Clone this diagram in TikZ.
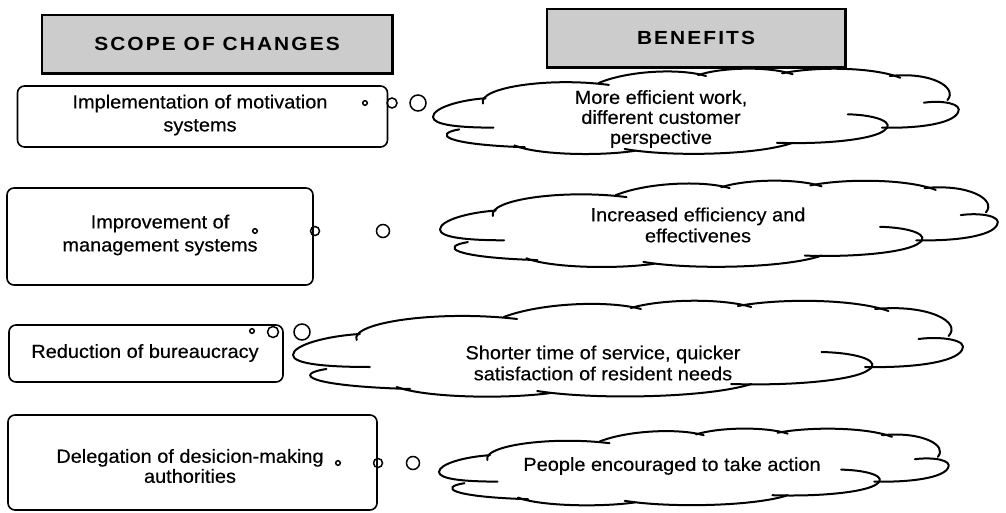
\documentclass[tikz,border=0pt]{standalone}
\usepackage{fontspec}
\setmainfont{Liberation Sans}[FakeStretch=1.05,FakeBold=0.4]
\newfontfamily\hdrfont{Liberation Sans}[FakeStretch=1.1,LetterSpace=11]
\begin{document}
\begin{tikzpicture}[x=1pt,y=-1pt,
  hdr/.style={draw=black, line width=1.4pt, fill=black!20, inner sep=0pt, font=\hdrfont\bfseries\fontsize{19pt}{22pt}\selectfont},
  bx/.style={draw=black, line width=1.6pt, rounded corners=7pt, inner sep=0pt},
  txt/.style={align=center, inner sep=0pt, font=\fontsize{19pt}{21pt}\selectfont},
  bub/.style={draw=black, line width=1.5pt, circle, inner sep=0pt},
  cloudline/.style={line width=2pt, line cap=round, line join=round},
  cloudpic/.pic={
    \draw[cloudline] (0.095,0.40) .. controls (0.085,0.22) and (0.22,0.10) .. (0.335,0.19);
    \draw[cloudline] (0.315,0.17) .. controls (0.37,0.03) and (0.47,0.00) .. (0.52,0.09);
    \draw[cloudline] (0.505,0.08) .. controls (0.55,-0.01) and (0.64,-0.02) .. (0.685,0.07);
    \draw[cloudline] (0.665,0.06) .. controls (0.73,-0.02) and (0.84,-0.01) .. (0.89,0.11);
    \draw[cloudline] (0.87,0.09) .. controls (0.95,0.04) and (1.0,0.22) .. (0.98,0.36);
    \draw[cloudline] (0.935,0.39) .. controls (0.97,0.36) and (1.01,0.40) .. (1.0,0.50) .. controls (0.99,0.62) and (0.93,0.68) .. (0.855,0.67);
    \draw[cloudline] (0.79,0.52) .. controls (0.85,0.53) and (0.88,0.62) .. (0.86,0.70) .. controls (0.84,0.80) and (0.75,0.86) .. (0.655,0.84);
    \draw[cloudline] (0.685,0.84) .. controls (0.62,0.98) and (0.45,1.0) .. (0.365,0.91);
    \draw[cloudline] (0.385,0.93) .. controls (0.32,0.99) and (0.20,0.98) .. (0.155,0.87);
    \draw[cloudline] (0.05,0.69) .. controls (0.0,0.74) and (0.02,0.86) .. (0.175,0.89);
    \draw[cloudline] (0.10,0.34) .. controls (0.05,0.36) and (0.0,0.45) .. (0.0,0.55) .. controls (0.0,0.64) and (0.05,0.67) .. (0.115,0.67);
  }
]
\useasboundingbox (0,0) rectangle (1006,513);
\fill[white] (0,0) rectangle (1006,513);

% headers
\node[hdr, minimum width=350pt, minimum height=58pt] (hs) at (217,44) {SCOPE OF CHANGES};
\draw[line width=2.6pt] (hs.south west) -- (hs.south east) -- (hs.north east);
\node[hdr, minimum width=298pt, minimum height=58pt] (hb) at (696,38) {BENEFITS};
\draw[line width=2.6pt] (hb.south west) -- (hb.south east) -- (hb.north east);

% clouds
\pic[xscale=525, yscale=89] (cl1) at (433,68) {cloudpic};
\pic[xscale=557, yscale=90] (cl2) at (440,180) {cloudpic};
\pic[xscale=669, yscale=100] (cl3) at (293,300) {cloudpic};
\pic[xscale=509, yscale=80] (cl4) at (439,428) {cloudpic};

% boxes
\node[bx, minimum width=370pt, minimum height=61pt] (b1) at (202.5,116.5) {};
\node[bx, minimum width=306pt, minimum height=97pt] (b2) at (160,236.5) {};
\node[bx, minimum width=274pt, minimum height=57pt] (b3) at (146,353.5) {};
\node[bx, minimum width=369pt, minimum height=95pt] (b4) at (192.5,462.5) {};

% box texts
\node[txt, font=\fontsize{19pt}{23pt}\selectfont] (t1) at (200,115) {Implementation of motivation\\systems};
\node[txt, font=\fontsize{19pt}{23pt}\selectfont] (t2) at (160,235) {Improvement of\\management systems};
\node[txt] (t3) at (145,353) {Reduction of bureaucracy};
\node[txt, font=\fontsize{19pt}{20pt}\selectfont] (t4) at (190,466) {Delegation of desicion-making\\authorities};

% cloud texts
\node[txt, font=\fontsize{19pt}{20pt}\selectfont] (c1) at (661,119) {More efficient work,\\different customer\\perspective};
\node[txt] (c2) at (698,225) {Increased efficiency and\\effectivenes};
\node[txt] (c3) at (603,363) {Shorter time of service, quicker\\satisfaction of resident needs};
\node[txt] (c4) at (672,466) {People encouraged to take action};

% thought bubbles
\node[bub, minimum size=4.6pt] (d1) at (365,103) {};
\node[bub, minimum size=10pt] (m1) at (392,103) {};
\node[bub, minimum size=16pt] (g1) at (418,103) {};
\node[bub, minimum size=4.6pt] (d2) at (255,231) {};
\node[bub, minimum size=9pt] (m2) at (315,231) {};
\node[bub, minimum size=13pt] (g2) at (383,231) {};
\node[bub, minimum size=4.6pt] (d3) at (252,331) {};
\node[bub, minimum size=11pt] (m3) at (273,332) {};
\node[bub, minimum size=16pt] (g3) at (302,332) {};
\node[bub, minimum size=4.6pt] (d4) at (338,463) {};
\node[bub, minimum size=9pt] (m4) at (378,463) {};
\node[bub, minimum size=13pt] (g4) at (413,463) {};
\end{tikzpicture}
\end{document}
